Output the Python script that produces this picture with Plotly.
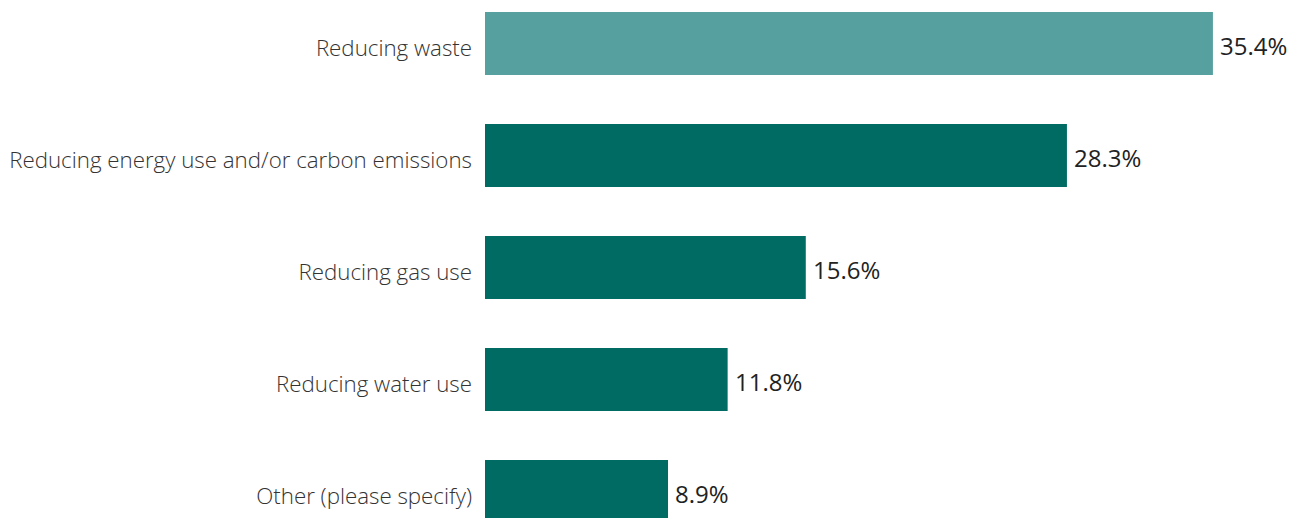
import plotly.graph_objects as go

categories = [
    "Reducing waste",
    "Reducing energy use and/or carbon emissions",
    "Reducing gas use",
    "Reducing water use",
    "Other (please specify)",
]
values = [35.4, 28.3, 15.6, 11.8, 8.9]
bar_colors = ["#56A19F", "#006B63", "#006B63", "#006B63", "#006B63"]

pos = list(range(len(categories)))

fig = go.Figure()
fig.add_trace(go.Bar(
    x=values,
    y=pos,
    orientation="h",
    width=0.5625,
    marker=dict(color=bar_colors, line=dict(width=0)),
    hoverinfo="skip",
))

for p, v in zip(pos, values):
    fig.add_annotation(
        x=v, y=p, xref="x", yref="y",
        text=f"{v:.1f}%",
        showarrow=False,
        xanchor="left",
        xshift=5,
        yshift=-2,
        font=dict(family="Open Sans", size=24, color="#222222"),
    )

fig.update_layout(
    width=1295,
    height=510,
    margin=dict(l=477, r=0, t=0, b=0, pad=0, autoexpand=False),
    paper_bgcolor="white",
    plot_bgcolor="white",
    showlegend=False,
    xaxis=dict(range=[0, 39.78], visible=False, fixedrange=True, automargin=False),
    yaxis=dict(
        range=[4.2366, -0.317],
        tickvals=pos,
        ticktext=categories,
        showgrid=False,
        zeroline=False,
        showline=False,
        ticks="",
        automargin=False,
        ticklabelstandoff=12,
        ticklabelshift=-5,
        tickfont=dict(family="Open Sans", size=22.3, color="#333333", weight=300),
        fixedrange=True,
    ),
)

fig.write_html("out.html")
